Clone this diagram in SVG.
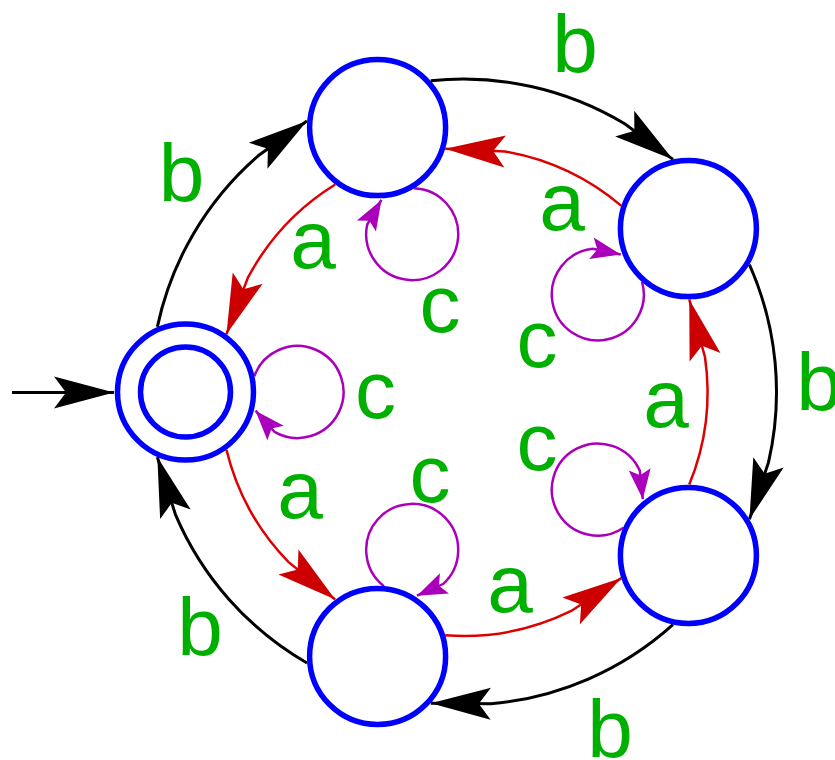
<svg xmlns="http://www.w3.org/2000/svg" width="835" height="760" viewBox="0 0 835 760">
<style>
.node{fill:#ffffff;stroke:#0000ff;stroke-width:5.5}
.b{fill:none;stroke:#000000;stroke-width:3;marker-end:url(#ah-black)}
.a{fill:none;stroke:#dd0000;stroke-width:2.5;marker-end:url(#ah-red)}
.c{fill:none;stroke:#aa00bb;stroke-width:2.5;marker-end:url(#ah-purple)}
.lbl{font-family:"Liberation Sans",Arial,sans-serif;font-size:82px;fill:#00b000;text-anchor:middle}
</style>
<defs>
<marker id="ah-black" markerUnits="userSpaceOnUse" viewBox="-62 -18 64 36" markerWidth="64" markerHeight="36" refX="0" refY="0" orient="auto" overflow="visible">
<path d="M0,0 L-60,-16 L-48,0 L-60,16 Z" fill="#000000"/>
</marker>
<marker id="ah-red" markerUnits="userSpaceOnUse" viewBox="-62 -18 64 36" markerWidth="64" markerHeight="36" refX="0" refY="0" orient="auto" overflow="visible">
<path d="M0,0 L-60,-16 L-48,0 L-60,16 Z" fill="#cc0000"/>
</marker>
<marker id="ah-purple" markerUnits="userSpaceOnUse" viewBox="-32 -12 34 24" markerWidth="34" markerHeight="24" refX="0" refY="0" orient="auto" overflow="visible">
<path d="M0,0 L-30,-11 L-24,0 L-30,11 Z" fill="#aa00bb"/>
</marker>
</defs>
<g id="connectors">
<path class="b" d="M12,392.5 L114,392.5"/>
<path class="b" d="M157.34,326.92 A313,313 0 0 1 258.15,155.78 L307,120.93"/>
<path class="b" d="M430.78,80.71 A313,313 0 0 1 624.71,123.71 L672.94,159.4"/>
<path class="b" d="M749.44,264.69 A313,313 0 0 1 768.48,462.41 L749.44,519.31"/>
<path class="b" d="M672.94,624.6 A313,313 0 0 1 490.78,703.81 L430.78,703.29"/>
<path class="b" d="M307,663.07 A313,313 0 0 1 175.38,514.3 L157.34,457.08"/>
<path class="a" d="M226.44,449.79 A244,244 0 0 0 288.57,562.11 L335.22,599.56"/>
<path class="a" d="M445.2,635.31 A244,244 0 0 0 571.23,610.93 L621.32,578.09"/>
<path class="a" d="M689.25,484.59 A244,244 0 0 0 705.01,357.2 L689.25,299.41"/>
<path class="a" d="M621.32,205.91 A244,244 0 0 0 505.03,151.56 L445.2,148.69"/>
<path class="a" d="M335.22,184.44 A244,244 0 0 0 247.66,278.2 L226.44,334.21"/>
<path class="c" d="M254.27,376.27 A46,46 0 1 1 274.5,431.84 L255.48,410.71"/>
<path class="c" d="M413.82,188.15 A46,46 0 1 1 367.22,224.56 L381.43,199.94"/>
<path class="c" d="M642.01,281.75 A46,46 0 1 1 592.98,248.68 L620.79,254.59"/>
<path class="c" d="M623.51,527.71 A46,46 0 1 1 639.82,470.86 L642.78,499.13"/>
<path class="c" d="M383.89,586.13 A46,46 0 1 1 442.99,584.06 L417.02,595.63"/>
</g>
<g id="node-start">
<circle class="node" cx="185.5" cy="392" r="68"/>
<circle class="node" cx="185.5" cy="392" r="45"/>
</g>
<g id="node-top"><circle class="node" cx="377.6" cy="127.6" r="68"/></g>
<g id="node-right-top"><circle class="node" cx="688.4" cy="228.6" r="68"/></g>
<g id="node-right-bottom"><circle class="node" cx="688.4" cy="555.4" r="68"/></g>
<g id="node-bottom"><circle class="node" cx="377.6" cy="656.4" r="68"/></g>
<g id="labels">
<text class="lbl" x="575" y="72">b</text>
<text class="lbl" x="181.5" y="201">b</text>
<text class="lbl" x="313" y="268">a</text>
<text class="lbl" x="440" y="332">c</text>
<text class="lbl" x="562" y="230">a</text>
<text class="lbl" x="537" y="367">c</text>
<text class="lbl" x="375.5" y="418">c</text>
<text class="lbl" x="666" y="427">a</text>
<text class="lbl" x="819" y="410">b</text>
<text class="lbl" x="537" y="470">c</text>
<text class="lbl" x="300" y="518">a</text>
<text class="lbl" x="430" y="502">c</text>
<text class="lbl" x="510" y="612">a</text>
<text class="lbl" x="200" y="655">b</text>
<text class="lbl" x="610" y="757">b</text>
</g>
</svg>
